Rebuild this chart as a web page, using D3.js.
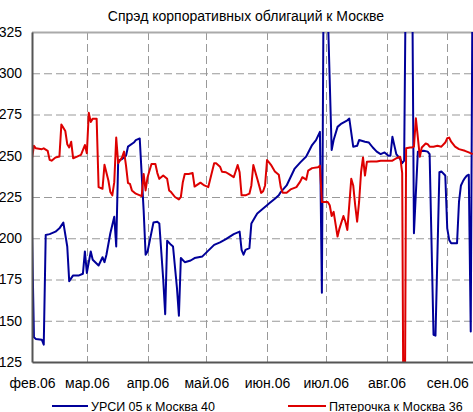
<!DOCTYPE html>
<html>
<head>
<meta charset="utf-8">
<script src="https://cdn.jsdelivr.net/npm/d3@7"></script>
<style>
  body { margin: 0; background: #fff; }
  svg { display: block; font-family: "Liberation Sans", Arial, sans-serif; }
</style>
</head>
<body>
<svg id="chart" width="473" height="412"></svg>
<script>
const title = 'Спрэд корпоративных облигаций к Москве';
const seriesNames = ['УРСИ 05 к Москва 40', 'Пятерочка к Москва 36'];
const monthLabels = ['фев.06', 'мар.06', 'апр.06', 'май.06', 'июн.06', 'июл.06', 'авг.06', 'сен.06'];
const yTicks = [125, 150, 175, 200, 225, 250, 275, 300, 325];

// УРСИ 05 к Москва 40
const ursiDates = [
  '02-01','02-02','02-03','02-06','02-07','02-08','02-10','02-13','02-15','02-17',
  '02-19','02-20','02-22','02-25','02-27','02-28','03-01','03-03','03-04','03-07',
  '03-09','03-10','03-11','03-13','03-15','03-16','03-17','03-19','03-21','03-22',
  '03-25','03-26','03-28','03-30','03-31','04-01','04-04','04-06','04-07','04-09',
  '04-10','04-11','04-13','04-14','04-16','04-17','04-18','04-20','04-23','04-25',
  '04-29','05-02','05-05','05-08','05-11','05-15','05-18','05-19','05-20','05-21',
  '05-23','05-24','05-26','05-27','05-30','06-01','06-02','06-05','06-07','06-08',
  '06-11','06-13','06-15','06-18','06-21','06-24','06-26','06-28','06-29','06-30',
  '07-01','07-04','07-05','07-07','07-09','07-12','07-13','07-15','07-17','07-18',
  '07-21','07-23','07-25','07-27','07-29','07-31','08-02','08-03','08-04','08-06',
  '08-08','08-09','08-10','08-11','08-14','08-15','08-17','08-20','08-22','08-23',
  '08-25','08-26','08-28','08-29','08-31','09-01','09-02','09-03','09-06','09-07',
  '09-08','09-09','09-10','09-11','09-12','09-13','09-14'
];
const ursiValues = [
  203, 140, 139, 138.5, 135.5, 202, 202.5, 204, 206, 209.5,
  195, 174, 177.5, 177.5, 178.5, 192, 179, 192, 187, 183.5,
  188.5, 185.5, 190, 203, 213, 195, 247, 248, 250, 255.5,
  258, 259.5, 260.5, 217, 190, 192, 209.5, 210, 209, 175,
  154, 198.5, 196, 195, 170, 153, 188, 185.5, 186.5, 188,
  189, 192.5, 196, 197.5, 199.5, 202.5, 204, 193, 190, 193,
  194, 209, 213, 215, 218, 220, 221, 224, 226, 228,
  232, 237, 242, 246, 249.5, 256.5, 259.5, 264.5, 167, 380,
  380, 253.5, 259.5, 267.5, 269.5, 271.5, 272.5, 255.5, 256, 259.5,
  258.5, 258, 255, 252.5, 251, 252, 250, 250, 261.5, 251,
  248, 245.5, 247, 380, 380, 203, 252.5, 253, 252.5, 251,
  141.5, 141, 240, 240.5, 238, 206, 199, 197, 197, 222,
  232, 234.5, 236.5, 238, 238.5, 143.5, 380
];

// Пятерочка к Москва 36
const pyatDates = [
  '02-01','02-02','02-03','02-06','02-07','02-09','02-10','02-11','02-13','02-15',
  '02-16','02-18','02-19','02-20','02-21','02-22','02-24','02-26','02-28','03-01',
  '03-02','03-03','03-04','03-06','03-07','03-09','03-10','03-12','03-13','03-14',
  '03-15','03-16','03-17','03-19','03-20','03-21','03-22','03-23','03-24','03-26',
  '03-29','03-30','03-31','04-01','04-03','04-05','04-06','04-07','04-09','04-11',
  '04-12','04-13','04-15','04-17','04-18','04-19','04-20','04-22','04-24','04-25',
  '04-28','04-30','05-02','05-05','05-06','05-08','05-09','05-11','05-13','05-15',
  '05-17','05-18','05-19','05-21','05-23','05-24','05-25','05-27','05-29','05-30',
  '05-31','06-01','06-02','06-03','06-05','06-07','06-08','06-09','06-11','06-13',
  '06-16','06-18','06-19','06-21','06-22','06-24','06-27','06-28','06-29','06-30',
  '07-02','07-03','07-04','07-05','07-07','07-08','07-10','07-11','07-12','07-14',
  '07-15','07-16','07-17','07-18','07-19','07-20','07-21','07-22','07-24','07-27',
  '07-29','08-01','08-04','08-06','08-08','08-09','08-10','08-11','08-13','08-14',
  '08-15','08-16','08-18','08-19','08-21','08-22','08-23','08-25','08-27','08-29',
  '08-31','09-01','09-02','09-03','09-05','09-07','09-10','09-12','09-14'
];
const pyatValues = [
  248.5, 256, 254.5, 254, 254.5, 253, 247.5, 247, 249, 249.5,
  269, 265, 257, 255, 258.5, 248.5, 249.5, 250.5, 256.5, 251.5,
  276, 270.5, 272.5, 272.5, 231, 230, 244.5, 235, 228, 226,
  234, 261, 245.5, 249, 252.5, 244, 233.5, 233, 229, 227,
  225.5, 239, 229, 237, 245, 245, 239.5, 236, 238, 236,
  229, 228, 225, 223.5, 225, 234, 239, 239, 239.5, 231.3,
  233.7, 232, 231, 245.4, 245.5, 243.4, 240.3, 240, 238.6, 237,
  244.4, 240, 226, 226, 227, 232, 244.4, 236, 227.5, 228.5,
  232, 247.4, 246, 244.5, 240.5, 238.5, 231, 227.6, 227.6, 229.6,
  231, 234.5, 237, 235.5, 241, 242.5, 243, 244, 222, 222,
  222, 220, 213.5, 216, 201, 206, 213.5, 210, 205, 236,
  232, 220, 210, 222, 240, 249, 238, 246.4, 246.5, 246.5,
  247, 247, 247, 248.5, 249.4, 239.5, 0, 254.5, 255, 255,
  255.5, 272.7, 249.4, 255, 257.4, 257, 255.5, 255.5, 256, 255.5,
  258, 260.6, 261, 258.5, 255.5, 254, 253, 252, 251
];

const colors = ['#000099', '#dd0000'];

const parseDate = d3.timeParse('%Y-%m-%d');
const toPoints = (dates, values) =>
  dates.map((d, i) => ({ date: parseDate('2006-' + d), value: values[i] }));

const series = [
  { name: seriesNames[0], color: colors[0], points: toPoints(ursiDates, ursiValues) },
  { name: seriesNames[1], color: colors[1], points: toPoints(pyatDates, pyatValues) },
];

const plot = { left: 32, top: 32, bottom: 362, right: 506 };

const x = d3
  .scaleTime()
  .domain([new Date(2006, 1, 1), new Date(2006, 9, 1)])
  .range([plot.left, plot.right]);

const y = d3.scaleLinear().domain([125, 325]).range([plot.bottom, plot.top]);

const monthStarts = d3.range(1, 9).map((m) => new Date(2006, m, 1));

const svg = d3.select('#chart');

// clip for the lines
svg
  .append('defs')
  .append('clipPath')
  .attr('id', 'plot-clip')
  .append('rect')
  .attr('x', plot.left)
  .attr('y', plot.top)
  .attr('width', plot.right - plot.left)
  .attr('height', plot.bottom - plot.top);

// dashed grid
const grid = svg.append('g').attr('stroke', '#999').attr('stroke-dasharray', '8,4');
grid
  .selectAll('.hgrid')
  .data(yTicks.filter((v) => v > 125 && v < 325))
  .enter()
  .append('line')
  .attr('x1', plot.left)
  .attr('x2', plot.right)
  .attr('y1', (d) => y(d) + 0.5)
  .attr('y2', (d) => y(d) + 0.5);
grid
  .selectAll('.vgrid')
  .data(monthStarts.slice(1))
  .enter()
  .append('line')
  .attr('x1', (d) => Math.round(x(d)) + 0.5)
  .attr('x2', (d) => Math.round(x(d)) + 0.5)
  .attr('y1', plot.top)
  .attr('y2', plot.bottom);

// top border
svg
  .append('line')
  .attr('x1', plot.left)
  .attr('x2', plot.right)
  .attr('y1', plot.top + 0.5)
  .attr('y2', plot.top + 0.5)
  .attr('stroke', '#aaa')
  .attr('stroke-width', 2);

// series lines
const line = d3
  .line()
  .x((d) => x(d.date))
  .y((d) => y(d.value));

svg
  .append('g')
  .attr('clip-path', 'url(#plot-clip)')
  .selectAll('path')
  .data(series)
  .enter()
  .append('path')
  .attr('d', (d) => line(d.points))
  .attr('fill', 'none')
  .attr('stroke', (d) => d.color)
  .attr('stroke-width', 2)
  .attr('stroke-linejoin', 'round');

// axes
const xAxis = svg
  .append('g')
  .attr('transform', `translate(0, ${plot.bottom})`)
  .call(
    d3
      .axisBottom(x)
      .tickValues(monthStarts.slice(0, monthLabels.length))
      .tickFormat((d, i) => monthLabels[i])
      .tickSize(0)
      .tickPadding(16)
  );
xAxis.select('.domain').attr('stroke', '#555').attr('stroke-width', 2);

const yAxis = svg
  .append('g')
  .attr('transform', `translate(${plot.left}, 0)`)
  .call(d3.axisLeft(y).tickValues(yTicks).tickSize(0).tickPadding(10));
yAxis.select('.domain').attr('stroke', '#555').attr('stroke-width', 2);

svg
  .selectAll('.tick text')
  .attr('font-size', 14)
  .attr('font-family', '"Liberation Sans", Arial, sans-serif')
  .attr('fill', '#000');

// title
svg
  .append('text')
  .attr('x', 246)
  .attr('y', 21)
  .attr('text-anchor', 'middle')
  .attr('font-size', 14)
  .text(title);

// legend
const legendPos = [
  { x1: 52, x2: 88 },
  { x1: 288, x2: 326 },
];
const legend = svg
  .selectAll('.legend')
  .data(series)
  .enter()
  .append('g')
  .attr('class', 'legend');
legend
  .append('line')
  .attr('x1', (d, i) => legendPos[i].x1)
  .attr('x2', (d, i) => legendPos[i].x2)
  .attr('y1', 406)
  .attr('y2', 406)
  .attr('stroke', (d) => d.color)
  .attr('stroke-width', 2);
legend
  .append('text')
  .attr('x', (d, i) => legendPos[i].x2 + 3)
  .attr('y', 410.5)
  .attr('font-size', 12.5)
  .text((d) => d.name);
</script>
</body>
</html>
